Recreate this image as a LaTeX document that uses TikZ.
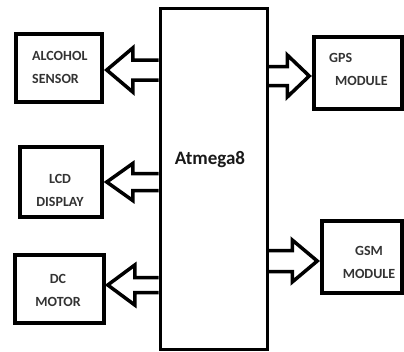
\documentclass[tikz,border=0pt]{standalone}
\usepackage{fontspec}
\setmainfont{Carlito}
\usetikzlibrary{calc}
\newcommand\fatarrow[5]{%
  \draw[fat] let \p1=(#1), \p2=(#2) in
    (\x1,{\y2+#4*1pt}) -- ({\x2+(#3)*1pt},{\y2+#4*1pt}) -- ({\x2+(#3)*1pt},{\y2+#5*1pt})
    -- (\p2) -- ({\x2+(#3)*1pt},{\y2-#5*1pt}) -- ({\x2+(#3)*1pt},{\y2-#4*1pt}) -- (\x1,{\y2-#4*1pt});}
\begin{document}
\begin{tikzpicture}[x=1pt,y=-1pt,
  box/.style={draw, line width=3.5pt, inner sep=0pt},
  lbl/.style={font=\bfseries\fontsize{14}{23}\selectfont, inner sep=0pt, text=black!80, align=center},
  fat/.style={draw, line width=3.5pt, line join=miter}]
\useasboundingbox (0,0) rectangle (404,351);
% boxes
\node[box, minimum width=86pt, minimum height=68pt] (alc) at (59,68) {};
\node[box, minimum width=82pt, minimum height=70pt] (lcd) at (61,182) {};
\node[box, minimum width=89pt, minimum height=68pt] (dc) at (59.5,289) {};
\node[box, minimum width=88pt, minimum height=72pt] (gps) at (358,73) {};
\node[box, minimum width=80pt, minimum height=72pt] (gsm) at (362,257) {};
\node[box, line width=3pt, minimum width=107pt, minimum height=341pt] (main) at (213.5,178.5) {};
% tips
\coordinate (t1) at ([shift={(3,2)}]alc.east);
\coordinate (t2) at ([shift={(3,0)}]lcd.east);
\coordinate (t3) at ([shift={(2,-4)}]dc.east);
\coordinate (t4) at ([shift={(-3,3)}]gps.west);
\coordinate (t5) at ([shift={(-3,4)}]gsm.west);
\fatarrow{main.west}{t1}{26}{10}{22}
\fatarrow{main.west}{t2}{26}{8.5}{18.5}
\fatarrow{main.west}{t3}{27}{7.5}{20}
\fatarrow{main.east}{t4}{-22}{9.5}{21}
\fatarrow{main.east}{t5}{-25}{10.5}{21}
% labels
\node[lbl, align=left, anchor=west] (talc) at (32,67) {ALCOHOL\\SENSOR};
\node[lbl] (tlcd) at (60,190) {LCD\\DISPLAY};
\node[lbl] (tdc) at (58,290) {DC\\MOTOR};
\node[lbl, align=left, anchor=west] (tgps) at (329,69) {GPS\\\hspace*{6pt}MODULE};
\node[lbl] (tgsm) at (369,262) {GSM\\MODULE};
\node[font=\bfseries\fontsize{19}{23}\selectfont, inner sep=0pt, text=black!90] (atm) at (210,160) {Atmega8};
\end{tikzpicture}
\end{document}
